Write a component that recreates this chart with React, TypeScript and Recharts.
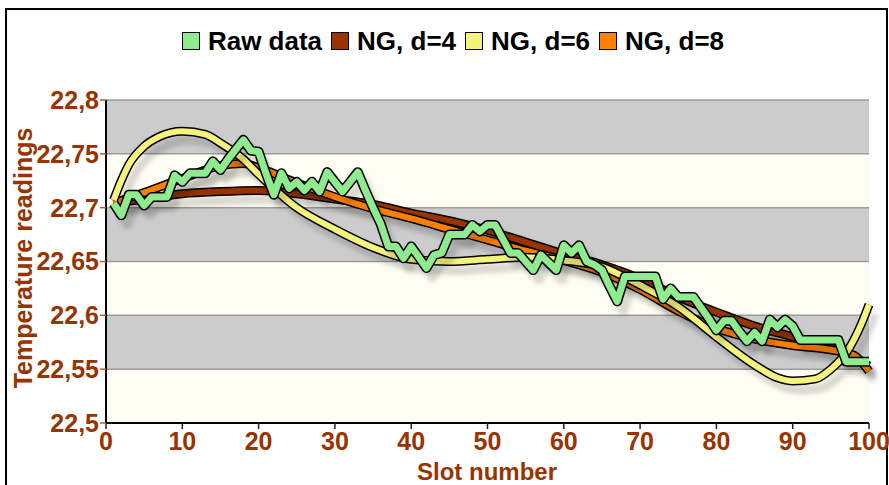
import React from "react";
import { CartesianGrid, Line, LineChart, XAxis, YAxis } from "recharts";

// slots 1..100, one raw reading per slot
const slots = Array.from({ length: 100 }, (_, i) => i + 1);

const rawData = [
  22.704, 22.693, 22.712, 22.712, 22.702, 22.71, 22.71, 22.71, 22.73, 22.724,
  22.732, 22.732, 22.732, 22.743, 22.735, 22.745, 22.754, 22.763, 22.753, 22.752,
  22.731, 22.712, 22.732, 22.718, 22.724, 22.716, 22.724, 22.715, 22.733, 22.724,
  22.715, 22.724, 22.733, 22.716, 22.7, 22.685, 22.664, 22.664, 22.653, 22.664,
  22.654, 22.644, 22.656, 22.658, 22.675, 22.675, 22.675, 22.684, 22.678, 22.684,
  22.684, 22.671, 22.658, 22.658, 22.65, 22.642, 22.656, 22.649, 22.642, 22.665,
  22.658, 22.665, 22.65, 22.647, 22.642, 22.627, 22.613, 22.636, 22.636, 22.636,
  22.636, 22.636, 22.615, 22.625, 22.617, 22.617, 22.617, 22.607, 22.597, 22.586,
  22.595, 22.595, 22.585, 22.576, 22.584, 22.576, 22.596, 22.589, 22.596, 22.59,
  22.577, 22.577, 22.577, 22.577, 22.577, 22.577, 22.557, 22.557, 22.557, 22.557,
];

const ng4Slots = [1, 5, 10, 15, 20, 25, 30, 35, 40, 45, 50, 55, 60, 65, 70, 75, 80, 85, 90, 95, 100];
const ng4Values = [
  22.704, 22.708, 22.713, 22.715, 22.716, 22.713, 22.708, 22.703, 22.695, 22.688,
  22.679, 22.668, 22.657, 22.647, 22.634, 22.617, 22.603, 22.59, 22.58, 22.57, 22.553,
];

const ng6Slots = [1, 2, 3, 5, 7, 10, 13, 15, 18, 20, 25, 30, 35, 40, 45, 50, 55, 60, 65, 70, 75, 80, 85, 88, 90, 93, 95, 97, 99, 100];
const ng6Values = [
  22.707, 22.725, 22.74, 22.757, 22.766, 22.771, 22.768, 22.76, 22.745, 22.731,
  22.7, 22.68, 22.663, 22.652, 22.65, 22.652, 22.654, 22.651, 22.645, 22.628,
  22.608, 22.58, 22.554, 22.542, 22.539, 22.541, 22.55, 22.565, 22.592, 22.61,
];

const ng8Slots = [1, 5, 10, 15, 18, 20, 25, 30, 35, 40, 45, 50, 55, 60, 65, 70, 75, 80, 85, 90, 95, 98, 100];
const ng8Values = [
  22.704, 22.714, 22.727, 22.739, 22.741, 22.737, 22.723, 22.71, 22.699, 22.69,
  22.68, 22.67, 22.66, 22.651, 22.64, 22.624, 22.604, 22.588, 22.578, 22.572,
  22.568, 22.563, 22.548,
];

const xTicks = [0, 10, 20, 30, 40, 50, 60, 70, 80, 90, 100];
const yTicks = [22.5, 22.55, 22.6, 22.65, 22.7, 22.75, 22.8];

const series = [
  { key: "raw", name: "Raw data", color: "#8EEC8E" },
  { key: "ng4", name: "NG, d=4", color: "#993300" },
  { key: "ng6", name: "NG, d=6", color: "#F4F47C" },
  { key: "ng8", name: "NG, d=8", color: "#FF8000" },
];
// bottom to top
const drawOrder = ["ng4", "ng8", "ng6", "raw"];

const pick = (keys: number[], vals: number[], s: number) => {
  const i = keys.indexOf(s);
  return i < 0 ? null : vals[i];
};

const rows = slots.map((s) => ({
  slot: s,
  raw: rawData[s - 1],
  ng4: pick(ng4Slots, ng4Values, s),
  ng6: pick(ng6Slots, ng6Values, s),
  ng8: pick(ng8Slots, ng8Values, s),
}));

const brown = "#993300";
const font = "'Liberation Sans', Arial, sans-serif";

function LegendBox() {
  return (
    <div
      style={{
        position: "absolute",
        left: 0,
        top: 26,
        width: 915,
        display: "flex",
        justifyContent: "center",
        alignItems: "center",
        fontFamily: font,
        fontWeight: "bold",
        fontSize: 26,
        lineHeight: "30px",
        color: "#000",
        whiteSpace: "nowrap",
      }}
    >
      {series.map((s) => (
        <span key={s.key} style={{ display: "flex", alignItems: "center", marginRight: 9 }}>
          <span
            style={{
              width: 16,
              height: 16,
              background: s.color,
              border: "1.5px solid #000",
              marginRight: 8,
              display: "inline-block",
            }}
          />
          {s.name}
        </span>
      ))}
    </div>
  );
}

export default function App() {
  return (
    <div style={{ position: "absolute", left: 0, top: 0, width: 889, height: 485, background: "#fff", overflow: "hidden" }}>
      <style>{`.shadowed { filter: drop-shadow(6px 9px 2px rgba(0,0,0,0.14)); }`}</style>
      <div
        style={{
          position: "absolute",
          left: 5,
          top: 8,
          width: 879,
          height: 500,
          border: "2px solid #000",
        }}
      />
      <LegendBox />
      <LineChart
        width={889}
        height={485}
        data={rows}
        margin={{ top: 100, right: 20, bottom: 0, left: 6 }}
        style={{ position: "absolute", left: 0, top: 0 }}
      >
        <CartesianGrid
          vertical={false}
          stroke="#9C9C9C"
          strokeWidth={1.5}
          horizontalFill={["#CCCCCC", "#FDFDF3"]}
          fillOpacity={1}
        />
        <XAxis
          dataKey="slot"
          type="number"
          domain={[0, 100]}
          ticks={xTicks}
          interval={0}
          height={62}
          axisLine={{ stroke: "#000", strokeWidth: 2 }}
          tickLine={{ stroke: "#222", strokeWidth: 1.5 }}
          tickSize={6}
          tickMargin={3}
          tick={{ fill: brown, fontSize: 25, fontWeight: "bold", fontFamily: font }}
          label={{
            content: () => (
              <text x={487} y={480} textAnchor="middle" fill={brown} fontSize={24} fontWeight="bold" fontFamily={font}>
                Slot number
              </text>
            ),
          }}
        />
        <YAxis
          type="number"
          domain={[22.5, 22.8]}
          ticks={yTicks}
          interval={0}
          width={100}
          axisLine={{ stroke: "#000", strokeWidth: 2 }}
          tickLine={{ stroke: "#C05A20", strokeWidth: 1.5 }}
          tickSize={6}
          tickMargin={1}
          tickFormatter={(v: number) => String(v).replace(".", ",")}
          tick={{ fill: brown, fontSize: 25, fontWeight: "bold", fontFamily: font }}
          label={{
            content: () => (
              <text
                x={23}
                y={258}
                transform="rotate(-90 23 258)"
                textAnchor="middle"
                dominantBaseline="central"
                fill={brown}
                fontSize={25}
                fontWeight="bold"
                fontFamily={font}
              >
                Temperature readings
              </text>
            ),
          }}
        />
        {drawOrder.map((k) => {
          const s = series.find((x) => x.key === k)!;
          const curve = k === "raw" ? "linear" : "monotone";
          const w = k === "raw" ? 10 : 9;
          return [
            <Line
              key={k + "-o"}
              dataKey={k}
              type={curve}
              stroke="#000"
              strokeWidth={w}
              strokeLinejoin="round"
              className="shadowed"
              dot={false}
              activeDot={false}
              connectNulls
              legendType="none"
              isAnimationActive={false}
            />,
            <Line
              key={k}
              dataKey={k}
              name={s.name}
              type={curve}
              stroke={s.color}
              strokeWidth={w - 3}
              strokeLinejoin="round"
              dot={false}
              activeDot={false}
              connectNulls
              isAnimationActive={false}
            />,
          ];
        })}
      </LineChart>
    </div>
  );
}
